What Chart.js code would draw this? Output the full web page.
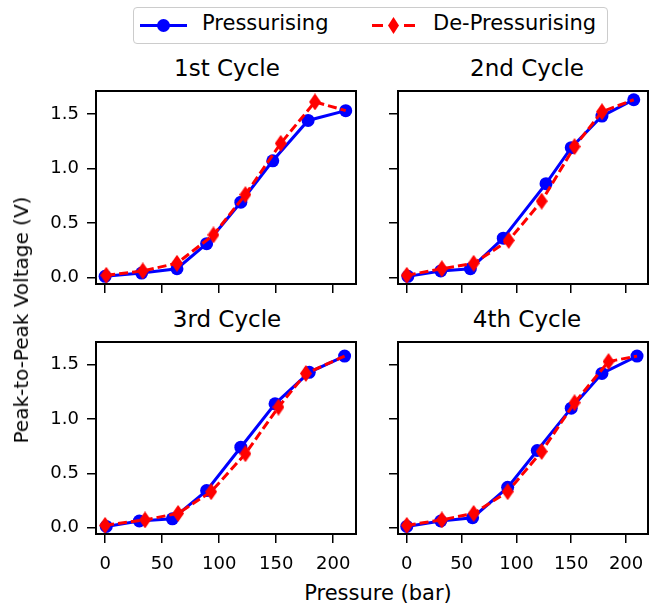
<!DOCTYPE html>
<html>
<head>
<meta charset="utf-8">
<script src="https://cdn.jsdelivr.net/npm/chart.js@4/dist/chart.umd.min.js"></script>
<style>
  body { margin: 0; background: #fff; font-family: "DejaVu Sans", sans-serif; }
  #wrap { position: relative; width: 657px; height: 610px; overflow: hidden; }
  canvas { position: absolute; }
  .t { position: absolute; color: #000; white-space: nowrap; transform: translate(-50%, -50%); }
  .title { font-size: 23px; }
  #legend { position: absolute; left: 133px; top: 7px; width: 473px; height: 35px;
            border: 1px solid #ccc; border-radius: 4px; }
  #legend div { position: absolute; }
  .lg-text { font-size: 21px; top: 3px; }
</style>
</head>
<body>
<div id="wrap">
  <div id="legend">
    <div style="left:6px;top:16px;width:47px;height:3px;background:#00f"></div>
    <div style="left:23px;top:11px;width:13px;height:13px;border-radius:50%;background:#00f"></div>
    <div class="lg-text" style="left:68px">Pressurising</div>
    <div style="left:238px;top:16px;width:11px;height:3px;background:#f00"></div>
    <div style="left:270px;top:16px;width:11px;height:3px;background:#f00"></div>
    <div style="left:254px;top:9px;width:11px;height:17px;background:#f00;clip-path:polygon(50% 0,100% 50%,50% 100%,0 50%)"></div>
    <div class="lg-text" style="left:299px">De-Pressurising</div>
  </div>

  <div class="t title" id="t1" style="left:227px;top:68px"></div>
  <div class="t title" id="t2" style="left:527px;top:68px"></div>
  <div class="t title" id="t3" style="left:227px;top:319px"></div>
  <div class="t title" id="t4" style="left:527px;top:319px"></div>

  <canvas id="c1" width="365" height="215" style="left:0;top:80px"></canvas>
  <canvas id="c2" width="292" height="215" style="left:365px;top:80px"></canvas>
  <canvas id="c3" width="365" height="245" style="left:0;top:331px"></canvas>
  <canvas id="c4" width="292" height="245" style="left:365px;top:331px"></canvas>

  <div class="t" style="left:378px;top:593px;font-size:21px">Pressure (bar)</div>
  <div class="t" style="left:21px;top:320px;font-size:20px;transform:translate(-50%,-50%) rotate(-90deg)">Peak-to-Peak Voltage (V)</div>
</div>

<script>
const cycleTitles = ["1st Cycle", "2nd Cycle", "3rd Cycle", "4th Cycle"];
const xTicks = [0, 50, 100, 150, 200];
const yTicks = [0.0, 0.5, 1.0, 1.5];

// Pressurising (blue) and de-pressurising (red), pressure in bar / voltage in V
const pressP1 = [0, 32, 63, 89, 119, 147, 178, 211];
const voltP1 = [0.01, 0.04, 0.08, 0.31, 0.69, 1.07, 1.44, 1.53];
const pressD1 = [1, 33, 63, 95, 123, 154, 184, 211];
const voltD1 = [0.02, 0.06, 0.13, 0.39, 0.76, 1.23, 1.61, 1.53];

const pressP2 = [1, 31, 58, 88, 127, 150, 178, 207];
const voltP2 = [0.01, 0.06, 0.08, 0.36, 0.86, 1.19, 1.48, 1.63];
const pressD2 = [0, 32, 61, 93, 123, 153, 178, 207];
const voltD2 = [0.02, 0.08, 0.13, 0.34, 0.70, 1.20, 1.52, 1.63];

const pressP3 = [1, 30, 59, 89, 119, 149, 179, 210];
const voltP3 = [0.01, 0.06, 0.08, 0.34, 0.74, 1.14, 1.43, 1.58];
const pressD3 = [0, 35, 64, 93, 123, 152, 176, 210];
const voltD3 = [0.02, 0.07, 0.13, 0.33, 0.68, 1.11, 1.42, 1.58];

const pressP4 = [0, 31, 60, 92, 119, 150, 178, 210];
const voltP4 = [0.01, 0.06, 0.09, 0.37, 0.71, 1.10, 1.42, 1.58];
const pressD4 = [0, 32, 61, 92, 123, 153, 184, 210];
const voltD4 = [0.02, 0.07, 0.13, 0.33, 0.70, 1.15, 1.53, 1.58];

const tickFont = { family: "DejaVu Sans", size: 18 };

function thinDiamond(w, h, color) {
  const c = document.createElement("canvas");
  c.width = w;
  c.height = h;
  const g = c.getContext("2d");
  g.fillStyle = color;
  g.beginPath();
  g.moveTo(w / 2, 0);
  g.lineTo(w, h / 2);
  g.lineTo(w / 2, h);
  g.lineTo(0, h / 2);
  g.closePath();
  g.fill();
  return c;
}
const diamond = thinDiamond(12, 17, "#ff0000");

// box around each axes
const frame = {
  id: "frame",
  afterDraw(chart) {
    const a = chart.chartArea;
    const ctx = chart.ctx;
    ctx.save();
    ctx.strokeStyle = "#000";
    ctx.lineWidth = 2;
    ctx.strokeRect(a.left, a.top, a.right - a.left, a.bottom - a.top);
    ctx.restore();
  },
};

function toPoints(xs, ys) {
  return xs.map((x, i) => ({ x: x, y: ys[i] }));
}

function noPadding(s) {
  s.paddingTop = 0;
  s.paddingBottom = 0;
  s.paddingLeft = 0;
  s.paddingRight = 0;
}

function renderCycle(id, px, py, dx, dy, opts) {
  new Chart(document.getElementById(id), {
    type: "line",
    data: {
      datasets: [
        {
          label: "Pressurising",
          data: toPoints(px, py),
          borderColor: "#0000ff",
          backgroundColor: "#0000ff",
          borderWidth: 3,
          pointRadius: 6.5,
          pointBorderWidth: 0,
          pointStyle: "circle",
          order: 1,
        },
        {
          label: "De-Pressurising",
          data: toPoints(dx, dy),
          borderColor: "#ff0000",
          backgroundColor: "#ff0000",
          borderWidth: 3,
          borderDash: [9, 4],
          pointRadius: dx.map((v, i) => (i === dx.length - 1 ? 0 : 6)),
          pointStyle: diamond,
          order: 0,
        },
      ],
    },
    options: {
      responsive: false,
      animation: false,
      devicePixelRatio: 1,
      layout: { padding: { top: 11, right: opts.padR, left: 0, bottom: 0 } },
      plugins: { legend: { display: false }, tooltip: { enabled: false } },
      scales: {
        x: {
          type: "linear",
          min: -8,
          max: 220,
          afterBuildTicks: (s) => { s.ticks = xTicks.map((v) => ({ value: v })); },
          afterFit: (s) => { s.height = opts.xH; noPadding(s); },
          grid: { drawOnChartArea: false, drawTicks: true, tickLength: 9, color: "#000", lineWidth: 1.5 },
          border: { display: false },
          ticks: {
            color: "#000",
            font: tickFont,
            padding: 11,
            maxRotation: 0,
            callback: (v) => (opts.showX ? String(v) : ""),
          },
        },
        y: {
          type: "linear",
          min: -0.06,
          max: 1.71,
          afterBuildTicks: (s) => { s.ticks = yTicks.map((v) => ({ value: v })); },
          afterFit: (s) => { s.width = opts.yW; noPadding(s); },
          grid: { drawOnChartArea: false, drawTicks: true, tickLength: 9, color: "#000", lineWidth: 1.5 },
          border: { display: false },
          ticks: {
            color: "#000",
            font: tickFont,
            padding: 8,
            callback: (v) => (opts.showY ? v.toFixed(1) : ""),
          },
        },
      },
    },
    plugins: [frame],
  });
}

cycleTitles.forEach((t, i) => { document.getElementById("t" + (i + 1)).textContent = t; });

renderCycle("c1", pressP1, voltP1, pressD1, voltD1, { yW: 96, xH: 11, padR: 7, showX: false, showY: true });
renderCycle("c2", pressP2, voltP2, pressD2, voltD2, { yW: 33, xH: 11, padR: 2, showX: false, showY: false });
renderCycle("c3", pressP3, voltP3, pressD3, voltD3, { yW: 96, xH: 42, padR: 7, showX: true, showY: true });
renderCycle("c4", pressP4, voltP4, pressD4, voltD4, { yW: 33, xH: 42, padR: 2, showX: true, showY: false });
</script>
</body>
</html>
